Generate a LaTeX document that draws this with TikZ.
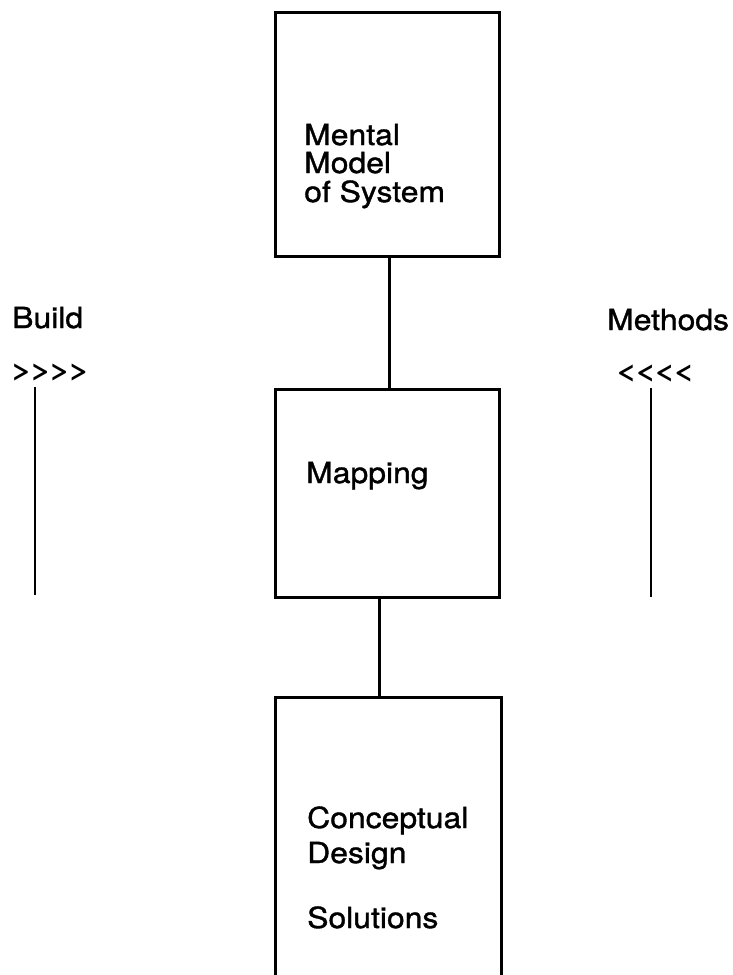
\documentclass[tikz,border=0pt]{standalone}
\usepackage{fontspec}
\newfontfamily\hv{TeX Gyre Heros}[FakeStretch=1.1, FakeBold=1.2]
\newfontfamily\hvc{TeX Gyre Heros}[FakeStretch=1.5, LetterSpace=-8]
\begin{document}
\begin{tikzpicture}[x=1pt,y=-1pt,
  boxshape/.style={draw=none, minimum width=224pt, inner sep=0pt, outer sep=0pt},
  label/.style={anchor=base west, inner sep=0pt, font=\hv\fontsize{29}{33}\selectfont},
  chev/.style={anchor=base west, inner sep=0pt, font=\hvc\bfseries\fontsize{24}{30}\selectfont},
  edge/.style={line width=3pt},
  rail/.style={line width=2.6pt}]
\useasboundingbox (0,0) rectangle (732,975);
% boxes
\node[boxshape, draw, line width=3pt, minimum height=244pt] (b1) at (387,134) {};
\node[boxshape, draw, line width=3pt, minimum height=208pt] (b2) at (387,493) {};
\node[boxshape, minimum width=226pt, minimum height=278pt] (b3) at (388,836) {};
\draw[edge] (b3.south west) -- (b3.north west) -- (b3.north east) -- (b3.south east);
% connectors
\draw[edge] ([xshift=2pt]b1.south) -- ([xshift=2pt]b2.north);
\draw[edge] ([xshift=-8pt]b2.south) -- ([xshift=-9pt]b3.north);
% texts in boxes
\node[label] (t1) at (304,145) {Mental};
\node[label] (t2) at (304,173) {Model};
\node[label] (t3) at (304,202) {of System};
\node[label] (t4) at (306,483) {Mapping};
\node[label] (t5) at (307,828) {Conceptual};
\node[label] (t6) at (307,863) {Design};
\node[label] (t7) at (307,928) {Solutions};
% side labels
\node[label] (build) at (12,328) {Build};
\node[chev] (bl) at (11,378) {>>>>};
\node[label] (methods) at (607,330) {Methods};
\node[chev] (ml) at (616,379) {<<<<};
\coordinate (l1) at (35,387);
\coordinate (l2) at (35,595);
\coordinate (r1) at (651,388);
\coordinate (r2) at (651,597);
\draw[rail] (l1) -- (l2);
\draw[rail] (r1) -- (r2);
\end{tikzpicture}
\end{document}
